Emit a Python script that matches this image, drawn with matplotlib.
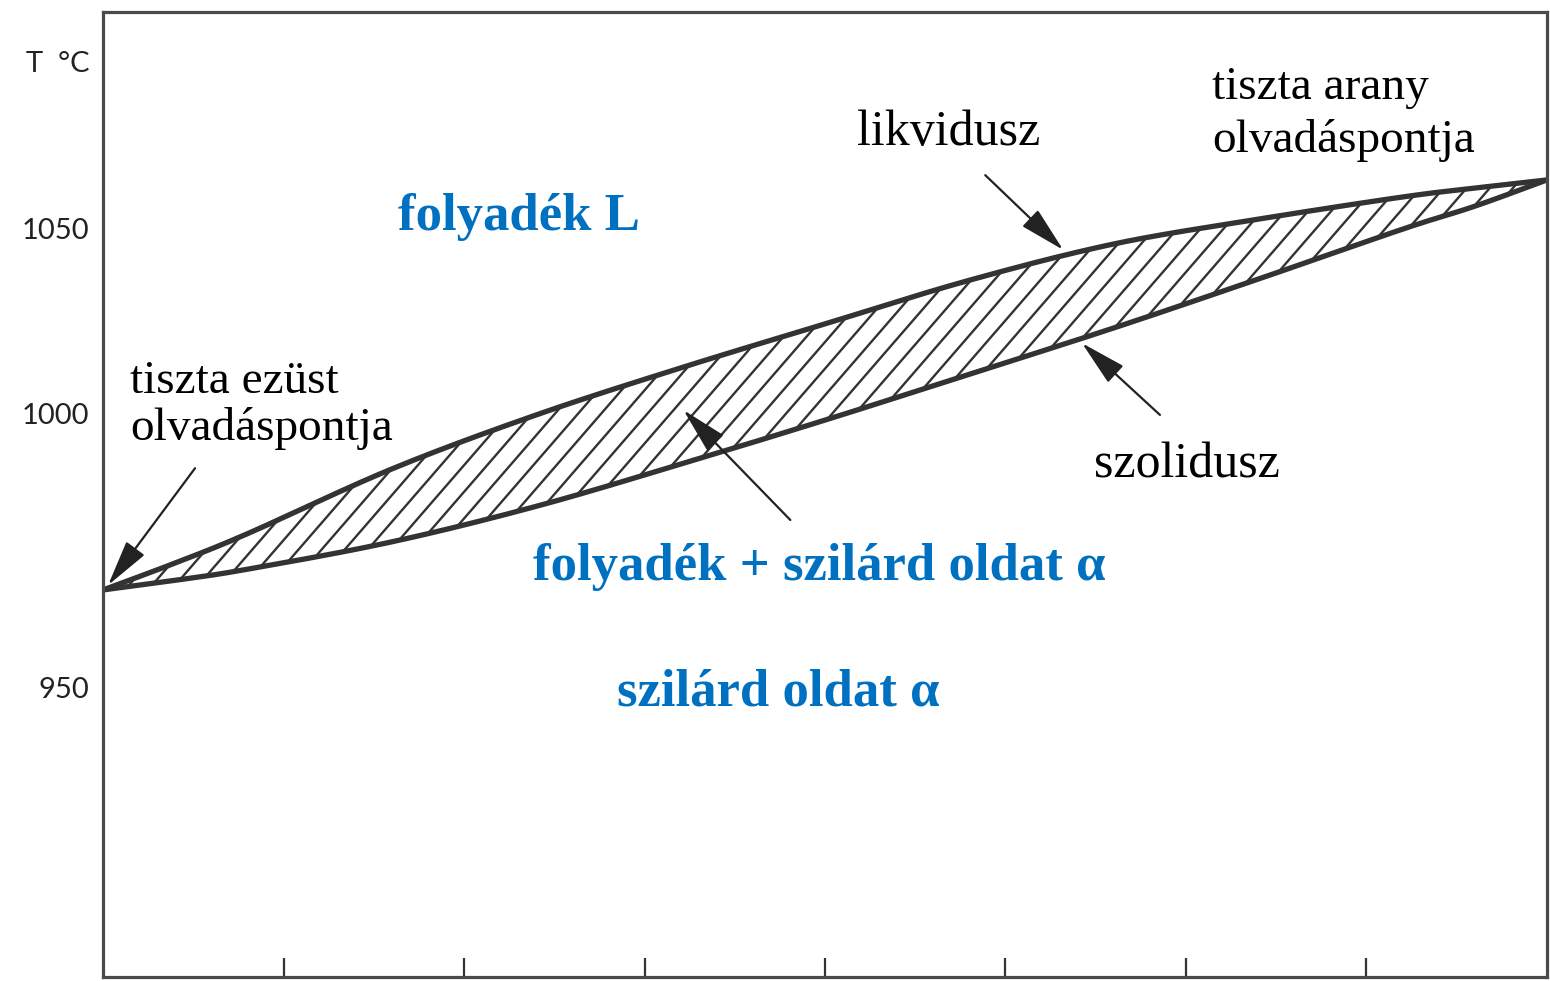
import numpy as np
import matplotlib.pyplot as plt
from matplotlib.patches import Polygon

# Ag-Au phase diagram, composition in % Au, temperature in °C
comp = [0, 5, 10, 20, 30, 40, 50, 60, 70, 80, 90, 95, 100]
liquidus = [952.2, 959.5, 967.4, 984.9, 999.5, 1012.2, 1024.1, 1035.9,
            1045.7, 1052.4, 1058.4, 1060.8, 1063.0]
solidus = [952.2, 954.8, 957.8, 965.2, 974.8, 986.2, 998.1, 1010.5,
           1023.0, 1036.2, 1049.7, 1055.9, 1063.0]

# tick positions as drawn in the original (the 950 label sits lower than scale)
ytick_pos = [1050, 1000, 925.7]
ytick_labels = ['1050', '1000', '950']
xtick_pos = [12.5, 25, 37.5, 50, 62.5, 75, 87.5]

line_col = '#333333'
blue = '#0070C0'
serif = 'Liberation Serif'


def smooth(x, y, n=20):
    # catmull-rom curve through the read points
    x = np.asarray(x, float)
    y = np.asarray(y, float)
    px = np.concatenate([[2 * x[0] - x[1]], x, [2 * x[-1] - x[-2]]])
    py = np.concatenate([[2 * y[0] - y[1]], y, [2 * y[-1] - y[-2]]])
    t = np.linspace(0, 1, n, endpoint=False)
    xs, ys = [], []
    for i in range(1, len(px) - 2):
        for p, out in ((px, xs), (py, ys)):
            p0, p1, p2, p3 = p[i - 1], p[i], p[i + 1], p[i + 2]
            out.extend(0.5 * (2 * p1 + (-p0 + p2) * t
                              + (2 * p0 - 5 * p1 + 4 * p2 - p3) * t ** 2
                              + (-p0 + 3 * p1 - 3 * p2 + p3) * t ** 3))
    xs.append(x[-1])
    ys.append(y[-1])
    return np.array(xs), np.array(ys)


fig = plt.figure(figsize=(15.5, 9.81), dpi=100)
ax = fig.add_axes([0.0665, 0.0041, 0.9315, 0.9837])
ax.set_xlim(0, 100)
ax.set_ylim(847.6, 1108.4)

for s in ax.spines.values():
    s.set_linewidth(2.3)
    s.set_color('#4a4a4a')

ax.set_xticks(xtick_pos)
ax.set_xticklabels([])
ax.tick_params(axis='x', direction='in', length=14, width=1.6, color='#333333')
ax.set_yticks(ytick_pos)
ax.set_yticklabels(ytick_labels, fontfamily='Lato', fontsize=21, color='#222222')
ax.tick_params(axis='y', length=0, pad=10)

ax.text(-0.009, 0.946, 'T  °C', transform=ax.transAxes, ha='right', va='center',
        fontfamily='Lato', fontsize=21, color='#222222')

lx, ly = smooth(comp, liquidus)
sx, sy = smooth(comp, solidus)

# two-phase region with hatching
poly = np.column_stack([np.concatenate([lx, sx[::-1]]),
                        np.concatenate([ly, sy[::-1]])])
band = Polygon(poly, closed=True, facecolor='none', edgecolor='none')
ax.add_patch(band)
slope = 4.5
for x0 in np.arange(-30, 100, 1.6):
    hl, = ax.plot([x0, x0 + 130 / slope], [940, 1070], color=line_col, lw=1.7)
    hl.set_clip_path(band)

ax.plot(lx, ly, color=line_col, lw=3.8, solid_capstyle='round')
ax.plot(sx, sy, color=line_col, lw=3.8, solid_capstyle='round')

# arrows
arrow = dict(arrowstyle='-|>,head_length=0.9,head_width=0.22', color='#222222',
             lw=1.6, mutation_scale=32, shrinkA=0, shrinkB=0)
ax.annotate('', xy=(0.35, 953.5), xytext=(6.37, 985.1), arrowprops=arrow)
ax.annotate('', xy=(66.5, 1044.1), xytext=(61.1, 1064.3), arrowprops=arrow)
ax.annotate('', xy=(67.8, 1018.9), xytext=(73.2, 999.5), arrowprops=arrow)
ax.annotate('', xy=(40.2, 1000.8), xytext=(47.6, 971.1), arrowprops=arrow)

# labels
ax.text(1.87, 992.7, 'tiszta ezüst\nolvadáspontja', fontfamily=serif, fontsize=34,
        ha='left', va='baseline', linespacing=1.12)
ax.text(52.2, 1072.4, 'likvidusz', fontfamily=serif, fontsize=36,
        ha='left', va='baseline')
ax.text(76.8, 1070.5, 'tiszta arany\nolvadáspontja', fontfamily=serif, fontsize=34,
        ha='left', va='baseline', linespacing=1.32)
ax.text(68.6, 982.7, 'szolidusz', fontfamily=serif, fontsize=36,
        ha='left', va='baseline')

ax.text(20.4, 1049.5, 'folyadék L', fontfamily=serif, fontweight='bold',
        fontsize=38, color=blue, ha='left', va='baseline')
ax.text(29.8, 954.9, 'folyadék + szilárd oldat α', fontfamily=serif,
        fontweight='bold', fontsize=38, color=blue, ha='left', va='baseline')
ax.text(35.6, 921.1, 'szilárd oldat α', fontfamily=serif, fontweight='bold',
        fontsize=38, color=blue, ha='left', va='baseline')

fig.savefig('out.png', dpi=100)
